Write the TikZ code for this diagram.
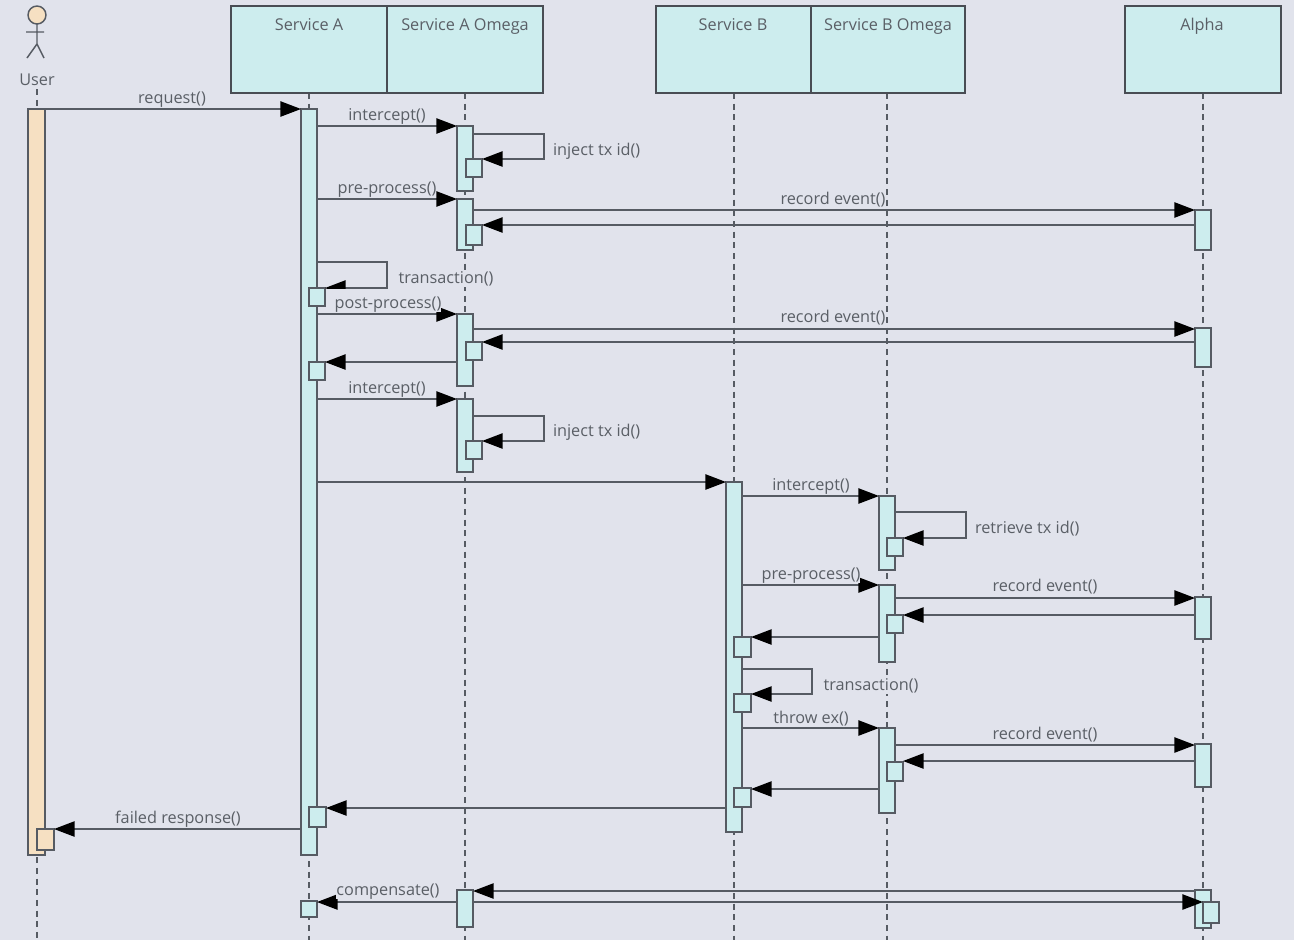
\documentclass[tikz,border=0pt]{standalone}
\usepackage{fontspec}
\setmainfont{Open Sans}
\usetikzlibrary{arrows.meta,backgrounds}
\definecolor{bgc}{HTML}{E1E3EC}
\definecolor{boxc}{HTML}{CDEDEE}
\definecolor{userc}{HTML}{F6E0C2}
\definecolor{linec}{HTML}{565B63}
\definecolor{textc}{HTML}{5A5F66}
\tikzset{
  barbox/.style={draw=linec,fill=boxc,line width=1.1pt,inner sep=0pt,outer sep=0pt},
  userbox/.style={barbox,fill=userc},
  headbox/.style={barbox,draw=linec!85!black},
  msg/.style={draw=linec,line width=1.1pt,-{Triangle[length=15.5pt,width=11.5pt,color=black]}},
  plainline/.style={draw=linec,line width=1.1pt},
  life/.style={draw=linec,line width=1.1pt,dash pattern=on 4.5pt off 3.5pt},
  title/.style={text=textc,font=\fontsize{12.2}{14}\selectfont,inner sep=0pt,outer sep=0pt,anchor=base},
  lab/.style={title,fill=bgc,text height=9.5pt,text depth=3pt},
  labl/.style={lab,anchor=base west},
}
% name, style, x1,y1,x2,y2 (pixels)
\newcommand{\bx}[6]{%
  \pgfmathsetmacro{\bxw}{(#5-#3)*0.75}%
  \pgfmathsetmacro{\bxh}{(#6-#4)*0.75}%
  \pgfmathsetmacro{\bxcx}{(#3+#5)/2}%
  \pgfmathsetmacro{\bxcy}{(#4+#6)/2}%
  \node[#2,minimum width=\bxw pt,minimum height=\bxh pt] (#1) at (\bxcx,\bxcy) {};}
\newcommand{\ttl}[4]{\node[title] (#1) at (#2,#3+6) {#4};}
\newcommand{\lbl}[4]{\node[lab] (#1) at (#2,#3+6) {#4};}
\newcommand{\lbll}[4]{\node[labl] (#1) at (#2,#3+6) {#4};}
% rightward message / leftward message at height y
\newcommand{\rmsg}[3]{\draw[msg] (#1.east |- 0,#3) -- (#2.west |- 0,#3);}
\newcommand{\lmsg}[3]{\draw[msg] (#1.west |- 0,#3) -- (#2.east |- 0,#3);}
% self call: from bar, y1, out to x, y2, into sub-bar
\newcommand{\smsg}[5]{\draw[msg] (#1.east |- 0,#2) -- (#3,#2) -- (#3,#4) -- (#5.east |- 0,#4);}
\begin{document}
\begin{tikzpicture}[x=0.75pt,y=-0.75pt]
\useasboundingbox (0,0) rectangle (1294,940);

% actor
\node[draw=linec,fill=userc,line width=1.1pt,circle,minimum size=13.5pt,inner sep=0pt,outer sep=0pt] (head) at (37,15) {};
\coordinate (hip) at (37,44);
\coordinate (armL) at (26,32);
\coordinate (armR) at (44,32);
\coordinate (legL) at (27,58);
\coordinate (legR) at (44,58);
\draw[plainline] (head.south) -- (hip) (armL) -- (armR) (legL) -- (hip) -- (legR);
\ttl{user}{37}{79}{User}

% headers
\bx{hA}{headbox}{231}{6}{387}{93}
\bx{hAO}{headbox}{387}{6}{543}{93}
\bx{hB}{headbox}{656}{6}{811}{93}
\bx{hBO}{headbox}{811}{6}{965}{93}
\bx{hAl}{headbox}{1125}{6}{1281}{93}
\ttl{tA}{309}{24}{Service A}
\ttl{tAO}{465}{24}{Service A Omega}
\ttl{tB}{733}{24}{Service B}
\ttl{tBO}{888}{24}{Service B Omega}
\ttl{tAl}{1202}{24}{Alpha}

% lifeline ends
\coordinate (endU) at (37,940);
\coordinate (endA) at (309,940);
\coordinate (endAO) at (465,940);
\coordinate (endB) at (734,940);
\coordinate (endBO) at (887,940);
\coordinate (endAl) at (1203,940);
\begin{scope}[on background layer]
\fill[bgc] (0,0) rectangle (1294,940);
\draw[life] (user.south -| endU) ++(0,4) -- (endU);
\draw[life] (hA.south -| endA) -- (endA);
\draw[life] (hAO.south -| endAO) -- (endAO);
\draw[life] (hB.south -| endB) -- (endB);
\draw[life] (hBO.south -| endBO) -- (endBO);
\draw[life] (hAl.south -| endAl) -- (endAl);
\end{scope}

% activation bars
\bx{U}{userbox}{28}{109}{45}{855}
\bx{Us}{userbox}{37}{829}{54}{850}
\bx{A}{barbox}{301}{109}{317}{855}
\bx{As1}{barbox}{309}{288}{325}{306}
\bx{As2}{barbox}{309}{362}{325}{380}
\bx{As3}{barbox}{309}{807}{326}{827}
\bx{As4}{barbox}{301}{901}{317}{917}
\bx{AOa}{barbox}{457}{126}{473}{191}
\bx{AOas}{barbox}{466}{159}{482}{177}
\bx{AOb}{barbox}{457}{199}{473}{250}
\bx{AObs}{barbox}{466}{225}{482}{245}
\bx{AOc}{barbox}{457}{314}{473}{386}
\bx{AOcs}{barbox}{466}{342}{482}{360}
\bx{AOd}{barbox}{457}{399}{473}{472}
\bx{AOds}{barbox}{466}{441}{482}{459}
\bx{AOe}{barbox}{457}{890}{473}{927}
\bx{B}{barbox}{726}{482}{742}{832}
\bx{Bs1}{barbox}{734}{637}{751}{657}
\bx{Bs2}{barbox}{734}{694}{751}{712}
\bx{Bs3}{barbox}{734}{788}{751}{807}
\bx{BOa}{barbox}{879}{496}{895}{570}
\bx{BOas}{barbox}{887}{538}{903}{556}
\bx{BOb}{barbox}{879}{585}{895}{662}
\bx{BObs}{barbox}{887}{615}{903}{633}
\bx{BOc}{barbox}{879}{728}{895}{813}
\bx{BOcs}{barbox}{887}{762}{903}{781}
\bx{Ala}{barbox}{1195}{210}{1211}{250}
\bx{Alb}{barbox}{1195}{328}{1211}{367}
\bx{Alc}{barbox}{1195}{597}{1211}{639}
\bx{Ald}{barbox}{1195}{744}{1211}{787}
\bx{Ale}{barbox}{1195}{890}{1211}{928}
\bx{Ales}{barbox}{1203}{902}{1219}{923}

% messages
\rmsg{U}{A}{109}
\rmsg{A}{AOa}{126}
\smsg{AOa}{134}{544}{159}{AOas}
\rmsg{A}{AOb}{199}
\rmsg{AOb}{Ala}{210}
\lmsg{Ala}{AObs}{225}
\smsg{A}{262}{387}{288}{As1}
\fill[bgc] (326.5,289) rectangle (349,296);
\rmsg{A}{AOc}{314}
\rmsg{AOc}{Alb}{329}
\lmsg{Alb}{AOcs}{342}
\lmsg{AOc}{As2}{362}
\rmsg{A}{AOd}{399}
\smsg{AOd}{416}{544}{441}{AOds}
\rmsg{A}{B}{482}
\rmsg{B}{BOa}{496}
\smsg{BOa}{512}{966}{538}{BOas}
\rmsg{B}{BOb}{585}
\rmsg{BOb}{Alc}{598}
\lmsg{Alc}{BObs}{615}
\lmsg{BOb}{Bs1}{637}
\smsg{B}{669}{812}{694}{Bs2}
\rmsg{B}{BOc}{728}
\rmsg{BOc}{Ald}{745}
\lmsg{Ald}{BOcs}{761}
\lmsg{BOc}{Bs3}{789}
\lmsg{B}{As3}{808}
\lmsg{A}{Us}{829}
\lmsg{AOe}{As4}{902}
\lmsg{Ale}{AOe}{891}
\rmsg{AOe}{Ales}{902}

% labels
\lbl{l1}{172}{97}{request()}
\lbl{l2}{387}{114}{intercept()}
\lbll{l3}{553}{149}{inject tx id()}
\lbl{l4}{387}{187}{pre-process()}
\lbl{l5}{833}{198}{record event()}
\lbl{l6}{446}{277}{transaction()}
\lbl{l7}{388}{302}{post-process()}
\lbl{l8}{833}{316}{record event()}
\lbl{l9}{387}{387}{intercept()}
\lbll{l10}{553}{430}{inject tx id()}
\lbl{l11}{811}{484}{intercept()}
\lbll{l12}{975}{527}{retrieve tx id()}
\lbl{l13}{811}{573}{pre-process()}
\lbl{l14}{1045}{585}{record event()}
\lbl{l15}{871}{684}{transaction()}
\lbl{l16}{811}{717}{throw ex()}
\lbl{l17}{1045}{733}{record event()}
\lbl{l18}{178}{817}{failed response()}
\lbl{l19}{388}{889}{compensate()}
\end{tikzpicture}
\end{document}
